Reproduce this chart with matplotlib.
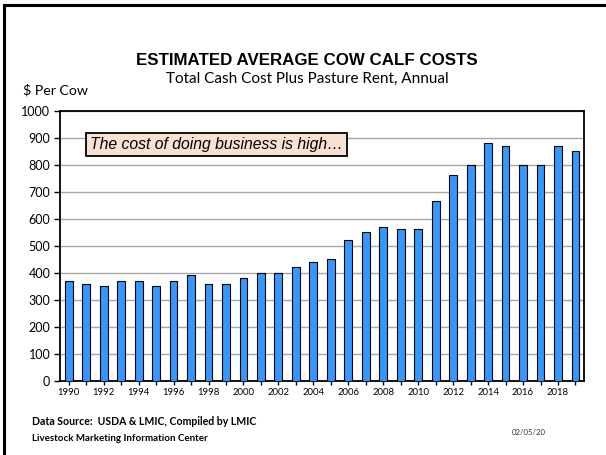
import matplotlib.pyplot as plt
from matplotlib.lines import Line2D

# Estimated cow-calf costs, $ per cow
years = list(range(1990, 2020))
costs = [370, 360, 350, 370, 370, 350, 370, 390, 360, 360,
         380, 400, 400, 420, 440, 450, 520, 550, 570, 560,
         560, 665, 760, 800, 880, 870, 800, 800, 870, 850]
year_labels = [str(y) if y % 2 == 0 else '' for y in years]
y_ticks = list(range(0, 1001, 100))

fig = plt.figure(figsize=(6.06, 4.55), dpi=100)
ax = fig.add_axes([0.099, 0.163, 0.865, 0.594])

x = range(len(years))
ax.bar(x, costs, width=0.45, color='#3399FF', edgecolor='black', linewidth=0.8, zorder=3)

ax.set_xlim(-0.5, len(years) - 0.5)
ax.set_ylim(0, 1000)
ax.set_yticks(y_ticks)
ax.set_yticklabels([str(v) for v in y_ticks], family='Lato', fontsize=9)
ax.set_xticks(list(x))
ax.set_xticklabels(year_labels, family='Lato', fontsize=6.8)
ax.tick_params(axis='y', direction='out', length=4, width=1, pad=3)
ax.tick_params(axis='x', direction='out', length=3, width=1, pad=2)
ax.grid(axis='y', color='#A6A6A6', linewidth=1, zorder=0)
for s in ax.spines.values():
    s.set_linewidth(1.3)

ax.text(0.058, 0.875, 'The cost of doing business is high\u2026', transform=ax.transAxes,
        family='Liberation Sans', style='italic', fontsize=11.3, va='center', ha='left',
        bbox=dict(boxstyle='square,pad=0.25', facecolor='#FBE1D2', edgecolor='black', linewidth=1.3),
        zorder=5)

# titles and notes
fig.text(0.507, 0.868, 'ESTIMATED AVERAGE COW CALF COSTS', family='Liberation Sans',
         fontweight='bold', fontsize=12.2, ha='center', va='center')
fig.text(0.507, 0.826, 'Total Cash Cost Plus Pasture Rent, Annual', family='Lato',
         fontsize=11, ha='center', va='center')
fig.text(0.038, 0.802, '$ Per Cow', family='Lato', fontsize=10.2, ha='left', va='center')
fig.text(0.052, 0.073, 'Data Source:  USDA & LMIC, Compiled by LMIC', family='Lato',
         fontweight='bold', fontsize=7.6, ha='left', va='center')
fig.text(0.052, 0.036, 'Livestock Marketing Information Center', family='Lato',
         fontweight='bold', fontsize=7, ha='left', va='center')
fig.text(0.872, 0.050, '02/05/20', family='Lato', fontsize=5.6, color='#333333',
         ha='center', va='center')

# frame lines along top and left edges
fig.add_artist(Line2D([0.006, 1.0], [0.988, 0.988], color='black', linewidth=2.2,
                      transform=fig.transFigure))
fig.add_artist(Line2D([0.007, 0.007], [0.0, 0.988], color='black', linewidth=2.2,
                      transform=fig.transFigure))

fig.savefig('out.png', dpi=100)
